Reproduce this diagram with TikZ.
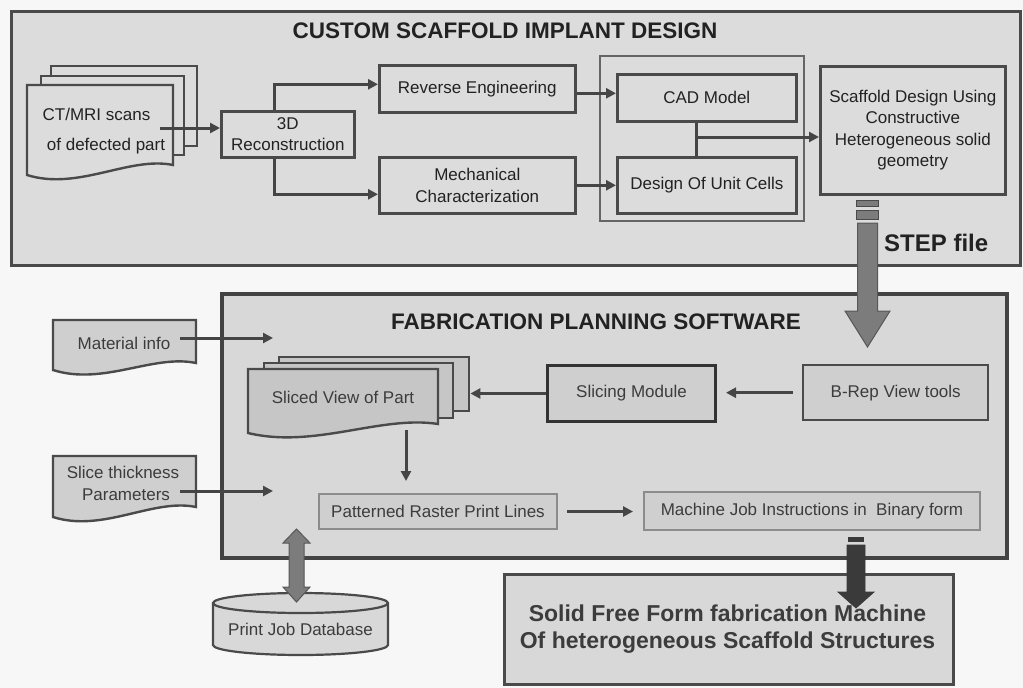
\documentclass[tikz,border=0pt]{standalone}
\usepackage{fontspec}
\setmainfont{Liberation Sans}
\usetikzlibrary{arrows.meta,calc}
\definecolor{bgc}{HTML}{F7F7F7}
\definecolor{topfill}{HTML}{DCDCDC}
\definecolor{lowfill}{HTML}{D8D8D8}
\definecolor{bord}{HTML}{4A4A4A}
\definecolor{lnc}{HTML}{454545}
\definecolor{txt}{HTML}{222222}
\definecolor{txt2}{HTML}{3C3C3C}
\definecolor{innerfill}{HTML}{CFCFCF}
\definecolor{pagefill}{HTML}{C6C6C6}
\definecolor{softbord}{HTML}{8C8C8C}
\definecolor{arrgray}{HTML}{7C7C7C}
\definecolor{arrdark}{HTML}{3A3A3A}
\newcommand\fsz[2]{\fontsize{#1}{#2}\selectfont}
\newcommand\rbox[7][]{\node[#1, minimum width={#4-#2}, minimum height={#5-#3}, anchor=north west] (#6) at (#2,#3) {#7};}
\newcommand\docpath[6][]{\draw[#1] (#2,#3) -- (#4,#3) -- (#4,#5) .. controls ({#4-0.3*(#4-#2)},{#5-9}) and ({#2+0.35*(#4-#2)},{#6+16}) .. (#2,#6) -- cycle;}
\begin{document}
\begin{tikzpicture}[x=1pt,y=-1pt,
  conn/.style={draw=lnc, line width=3pt, -{Triangle[length=10pt,width=10pt]}},
  plain/.style={draw=lnc, line width=3pt},
  bx/.style={draw=bord, line width=2.6pt, fill=topfill, inner sep=0pt, align=center, text=txt, font=\fsz{17}{21.5}},
  lbx/.style={draw=bord, line width=2.4pt, fill=innerfill, inner sep=0pt, align=center, text=txt2, font=\fsz{17}{21.5}},
  sbx/.style={draw=softbord, line width=2pt, fill=innerfill, inner sep=0pt, align=center, text=txt2, font=\fsz{17}{21.5}},
  docst/.style={draw=bord, line width=2.4pt, fill=innerfill},
  pagest/.style={draw=bord, line width=2.4pt, fill=pagefill, inner sep=0pt},
  lbl/.style={inner sep=0pt, align=center, text=txt, font=\fsz{17}{21.5}},
  lbl2/.style={inner sep=0pt, align=center, text=txt2, font=\fsz{17}{22}},
  ttl/.style={inner sep=0pt, text=txt, font=\fsz{22.5}{26}\bfseries}
]
\useasboundingbox (0,0) rectangle (1023,688);
\fill[bgc] (0,0) rectangle (1023,688);

% ---------- top section ----------
\rbox[bx, line width=3pt]{10}{10}{1019}{264}{top}{}
\node[ttl] (t1) at (505,31) {CUSTOM SCAFFOLD IMPLANT DESIGN};

% CT/MRI stack
\node[draw=bord, line width=2.4pt, fill=topfill, minimum width=146, minimum height=80, anchor=north west] (ctp3) at (50,65) {};
\node[draw=bord, line width=2.4pt, fill=topfill, minimum width=143, minimum height=79, anchor=north west] (ctp2) at (40,75) {};
\docpath[docst, fill=topfill]{27}{85}{173}{165}{175}
\node[lbl] (ct1) at (96.5,114) {CT/MRI scans};
\node[lbl] (ct2) at (106,146) {of defected part};
\coordinate (ctA) at (160,128);

\rbox[bx]{220}{110}{353}{156}{recon}{3D\\Reconstruction}
\rbox[bx]{378}{64}{574}{111}{re}{Reverse Engineering}
\rbox[bx]{378}{156}{574}{212}{mech}{Mechanical\\Characterization}
\rbox[bx, line width=2pt, draw=bord!85]{599}{55}{803}{220}{grp}{}
\rbox[bx]{616}{73}{795}{120}{cad}{CAD Model}
\rbox[bx]{616}{156}{795}{212}{unit}{Design Of Unit Cells}
\rbox[bx]{819}{65}{1004}{193}{scaf}{Scaffold Design Using\\Constructive\\Heterogeneous solid\\geometry}

\draw[conn] (ctA) -- (ctA -| recon.west);
\draw[conn] ([xshift=-13.5pt]recon.north) |- ([yshift=4.5pt]re.west);
\draw[conn] ([xshift=-13.5pt]recon.south) |- ([yshift=-9pt]mech.west);
\draw[conn] ([yshift=-4.5pt]re.east) -- ([yshift=-4.5pt]re.east -| cad.west);
\draw[conn] (mech.east) -- (mech.east -| unit.west);
\coordinate (jn) at (696,137);
\draw[plain] (jn |- cad.south) -- (jn |- unit.north);
\draw[conn] (jn) -- (jn -| scaf.west);

% ---------- lower section ----------
\rbox[bx, line width=3.5pt, fill=lowfill, draw=bord!90!black]{220}{292}{1005}{556}{low}{}
\node[ttl] (t2) at (596,322) {FABRICATION PLANNING SOFTWARE};

% input documents
\docpath[docst]{53}{320}{196}{363}{370}
\node[lbl2] (mat) at (124,343) {Material info};
\docpath[docst]{53}{456}{196}{507}{517}
\node[lbl2] (thk) at (123,483) {Slice thickness\\\hspace*{6pt}Parameters};
\coordinate (m0) at (180,338);
\coordinate (m1) at (273,338);
\coordinate (s0) at (180,491);
\coordinate (s1) at (273,491);
\draw[conn] (m0) -- (m1);
\draw[conn] (s0) -- (s1);

% sliced view stack
\rbox[pagest]{278}{356}{468}{410}{sv3}{}
\rbox[pagest]{263}{362}{452}{417}{sv2}{}
\docpath[docst, fill=pagefill]{248}{369}{438}{424}{433}
\node[lbl2] (sv) at (343,397) {Sliced View of Part};

\rbox[lbx, line width=3pt, draw=black!80]{546}{364}{714}{420}{slicing}{Slicing Module}
\rbox[lbx]{802}{364}{987}{419}{brep}{B-Rep View tools}
\rbox[sbx]{318}{493}{556}{528}{raster}{Patterned Raster Print Lines}
\rbox[sbx]{643}{491}{979}{529}{mach}{Machine Job Instructions in\ \ Binary form}

\draw[conn, shorten <=9pt, shorten >=9pt] (brep.west) -- (brep.west -| slicing.east);
\draw[conn] (slicing.west) -- (slicing.west -| sv3.east);
\coordinate (svd) at (406,430);
\draw[conn, shorten >=12pt] (svd) -- (svd |- raster.north);
\draw[conn, shorten <=9pt, shorten >=10pt] (raster.east) -- (raster.east -| mach.west);

% STEP file arrow
\coordinate (sa) at (867.5,200);
\begin{scope}[shift={(sa)}]
  \filldraw[fill=arrgray, draw=bord, line width=1pt] (-11,0) rectangle (11,6);
  \filldraw[fill=arrgray, draw=bord, line width=1pt] (-11,10) rectangle (11,19);
  \filldraw[fill=arrgray, draw=arrgray!70!black, line width=1pt]
    (-10,23) -- (10,23) -- (10,111) -- (22.5,111) -- (0,147) -- (-22.5,111) -- (-10,111) -- cycle;
\end{scope}
\node[anchor=west, inner sep=0pt, text=txt, font=\fsz{24}{28}\bfseries] (stept) at (884,243) {STEP file};

% output machine
\rbox[bx, line width=2.6pt, fill=lowfill]{503}{573}{952}{683}{sff}{}
\node[inner sep=0pt, align=center, text=txt2, font=\fsz{23}{27}\bfseries] (sfft) at (727.5,629) {Solid Free Form fabrication Machine\\Of heterogeneous Scaffold Structures};

\coordinate (da) at (856,537);
\begin{scope}[shift={(da)}]
  \fill[arrdark] (-8,0) rectangle (8,5);
  \filldraw[fill=arrdark, draw=arrdark, line width=0.8pt]
    (-9,8) -- (9,8) -- (9,55) -- (18,55) -- (0,71) -- (-18,55) -- (-9,55) -- cycle;
\end{scope}

% database
\filldraw[fill=lowfill, draw=bord, line width=2.2pt]
  (213,603) -- (213,645) arc[start angle=180, end angle=0, x radius=87.5, y radius=10]
  -- (388,603) arc[start angle=0, end angle=-180, x radius=87.5, y radius=10] -- cycle;
\draw[draw=bord, line width=2.2pt] (213,603) arc[start angle=180, end angle=0, x radius=87.5, y radius=10];
\node[lbl2] (db) at (300.5,629) {Print Job Database};

\coordinate (dbA) at (296.5,529);
\begin{scope}[shift={(dbA)}]
  \filldraw[fill=arrgray, draw=arrgray!70!black, line width=1pt]
    (0,0) -- (13.5,14) -- (7.5,14) -- (7.5,58) -- (13.5,58) -- (0,73) -- (-13.5,58) -- (-7.5,58) -- (-7.5,14) -- (-13.5,14) -- cycle;
\end{scope}
\end{tikzpicture}
\end{document}
